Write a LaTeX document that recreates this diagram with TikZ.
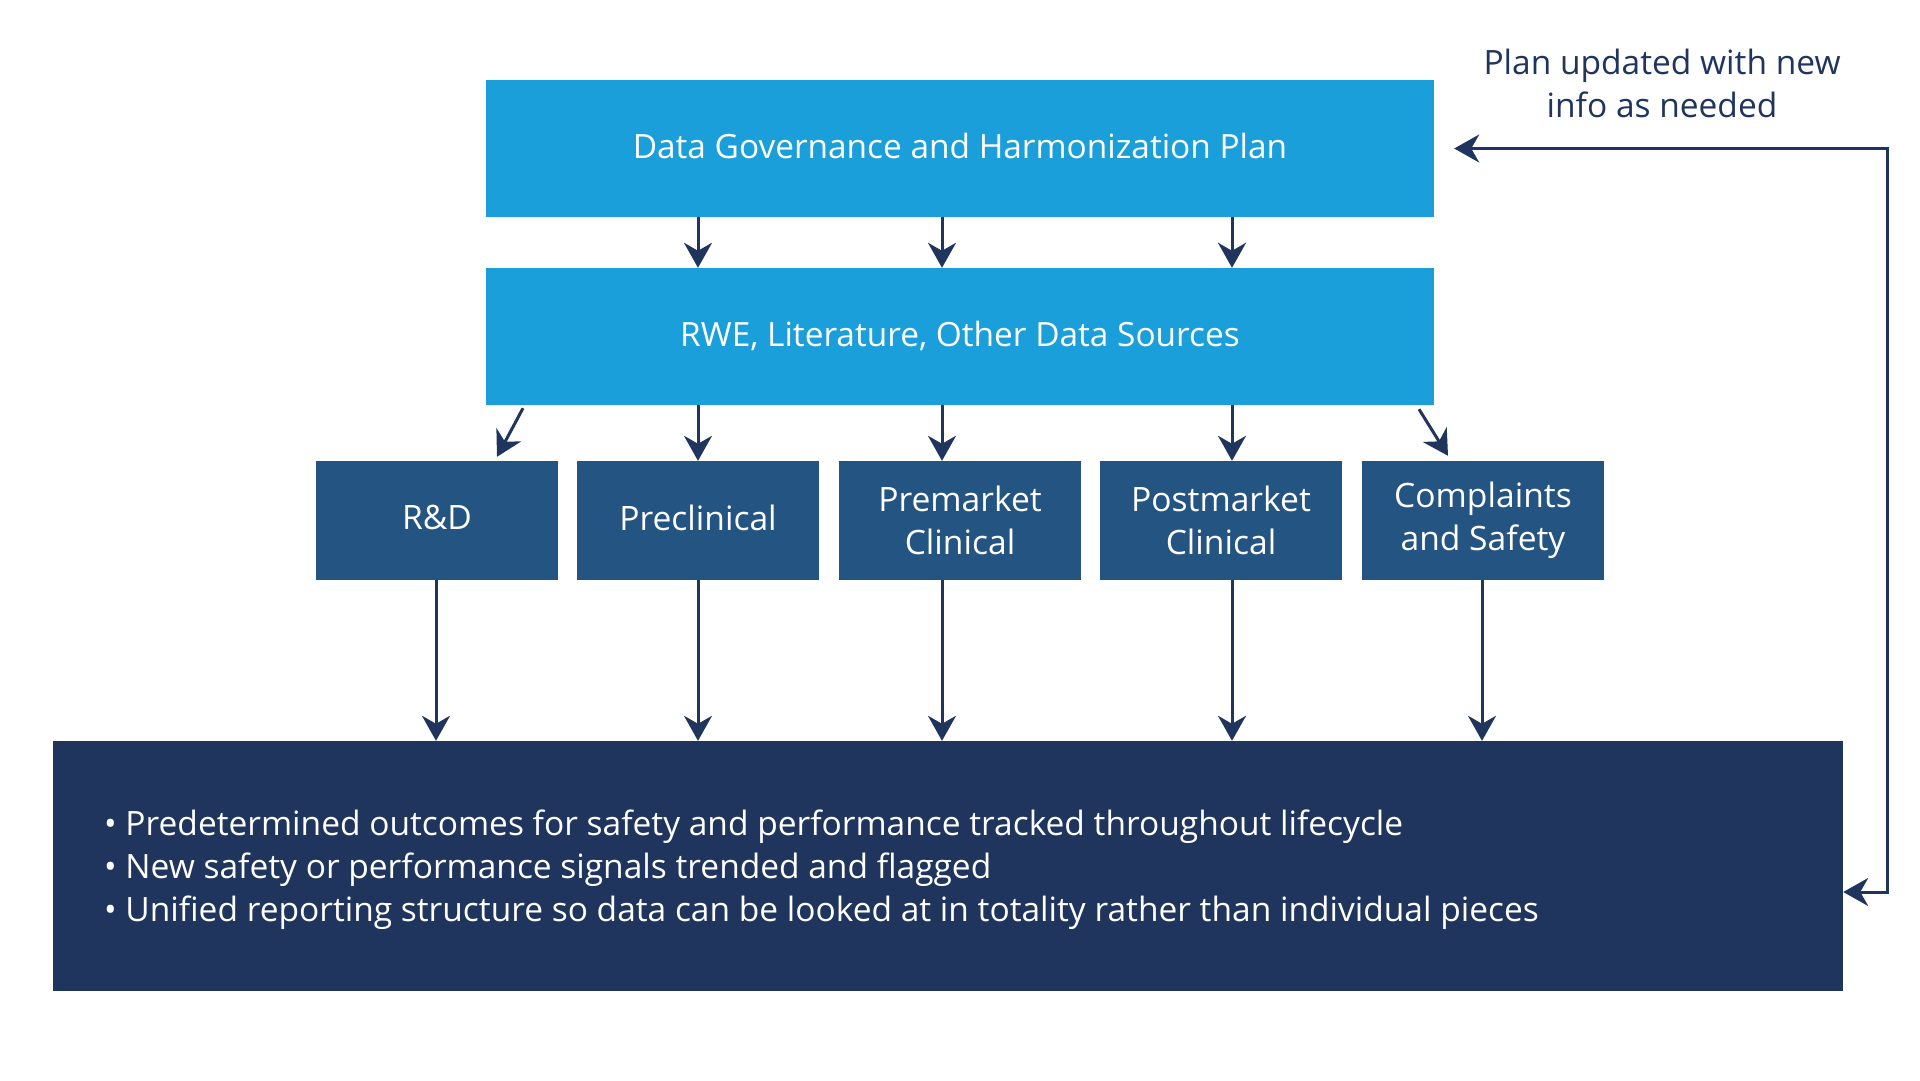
\documentclass[tikz,border=0pt]{standalone}
\usepackage{fontspec}
\setmainfont{Open Sans}
\usetikzlibrary{arrows.meta,calc}
\definecolor{lblue}{HTML}{1A9FDB}
\definecolor{mblue}{HTML}{245481}
\definecolor{dblue}{HTML}{1F355E}
\begin{document}
\begin{tikzpicture}[x=1pt,y=-1pt,
 wide/.style={fill=lblue, text=white, minimum width=948pt, minimum height=137pt, inner sep=0pt, text height=24pt, text depth=5pt, font=\fontsize{33.4}{42}\selectfont},
 phase/.style={fill=mblue, text=white, minimum width=242pt, minimum height=119pt, inner sep=0pt, align=center, font=\fontsize{33.6}{43}\selectfont},
 arr/.style={draw=dblue, line width=3pt, -{Stealth[length=25pt,width=28pt,inset=8pt]}},
]
\useasboundingbox[fill=white] (0,0) rectangle (1920,1080);

\node[wide] (plan) at (960,148.5) {Data Governance and Harmonization Plan};
\node[wide] (sources) at (960,336.5) {RWE, Literature, Other Data Sources};

\node[phase, text depth=6pt] (rd) at (437,520.5) {R\&D};
\node[phase, text depth=6pt] (pre) at (698,520.5) {Preclinical};
\node[phase] (pm) at (960,520.5) {Premarket\\Clinical};
\node[phase] (post) at (1221,520.5) {Postmarket\\Clinical};
\node[phase] (cs) at (1483,520.5) {Complaints\\and Safety};

\node[fill=dblue, text=white, minimum width=1790pt, minimum height=250pt, inner sep=0pt] (out) at (948,866) {};
\node[text=white, anchor=west, align=left, inner sep=0pt, font=\fontsize{33.5}{43}\selectfont] (bul) at (104,870)
 {•~Predetermined outcomes for safety and performance tracked throughout lifecycle\\
  •~New safety or performance signals trended and flagged\\
  •~Unified reporting structure so data can be looked at in totality rather than individual pieces};

\node[text=dblue, align=center, inner sep=0pt, font=\fontsize{33.5}{43}\selectfont] (upd) at (1662,83)
 {Plan updated with new\\info as needed};

% plan -> sources
\draw[arr] ([xshift=-262pt]plan.south) -- ([xshift=-262pt]sources.north);
\draw[arr] ([xshift=-18pt]plan.south) -- ([xshift=-18pt]sources.north);
\draw[arr] ([xshift=272pt]plan.south) -- ([xshift=272pt]sources.north);

% sources -> phases
\draw[arr] ([xshift=-437pt,yshift=-3pt]sources.south) -- ([xshift=60pt,yshift=4pt]rd.north);
\draw[arr] ([xshift=-262pt]sources.south) -- (pre.north);
\draw[arr] ([xshift=-18pt]sources.south) -- ([xshift=-18pt]pm.north);
\draw[arr] ([xshift=272pt]sources.south) -- ([xshift=11pt]post.north);
\draw[arr] ([xshift=459pt,yshift=-4pt]sources.south) -- ([xshift=-35pt,yshift=5pt]cs.north);

% phases -> outcomes
\draw[arr] ([xshift=-1pt]rd.south) coordinate (a1) -- (a1 |- out.north);
\draw[arr] (pre.south) -- (pre.south |- out.north);
\draw[arr] ([xshift=-18pt]pm.south) coordinate (a3) -- (a3 |- out.north);
\draw[arr] ([xshift=11pt]post.south) coordinate (a4) -- (a4 |- out.north);
\draw[arr] ([xshift=-1pt]cs.south) coordinate (a5) -- (a5 |- out.north);

% feedback
\draw[draw=dblue, line width=3pt, {Stealth[length=25pt,width=28pt,inset=8pt]}-{Stealth[length=25pt,width=28pt,inset=8pt]}]
 ([yshift=-26pt]out.east) -- ++(44,0) |- ([xshift=20pt]plan.east);
\end{tikzpicture}
\end{document}
